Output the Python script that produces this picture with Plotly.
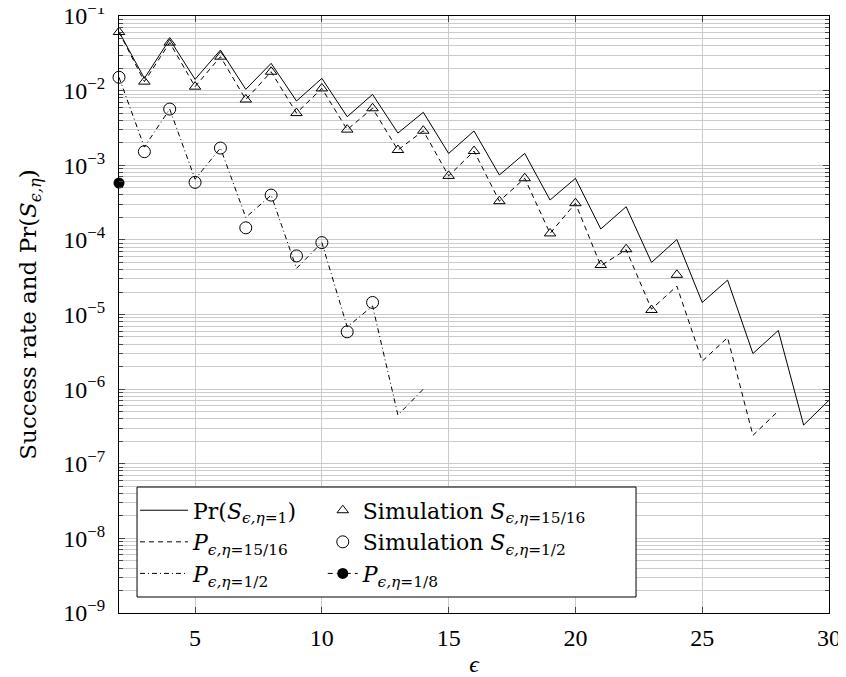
import plotly.graph_objects as go

# ---- data ----
eps_solid = list(range(2, 31))
pr_eta1 = [0.0616, 0.0146, 0.0486, 0.01416, 0.035, 0.0104, 0.0232, 0.00726, 0.0146,
           0.00447, 0.0089, 0.0027, 0.00512, 0.00144, 0.00288, 0.00074, 0.00144,
           0.000342, 0.000667, 0.00014, 0.000278, 4.99e-5, 1.01e-4, 1.45e-5, 2.89e-5,
           3.0e-6, 6.1e-6, 3.3e-7, 7.1e-7]

eps_1516 = list(range(2, 29))
p_1516 = [0.061, 0.0132, 0.044, 0.0113, 0.0285, 0.0076, 0.0179, 0.0050, 0.0107,
          0.0030, 0.0058, 0.0016, 0.0029, 0.00072, 0.00155, 0.00033, 0.00067,
          0.000122, 0.00031, 4.5e-5, 7.4e-5, 1.18e-5, 2.4e-5, 2.37e-6, 4.9e-6,
          2.4e-7, 5.1e-7]

eps_sim1516 = list(range(2, 25))
sim_1516 = [0.061, 0.0132, 0.044, 0.0113, 0.0285, 0.0076, 0.0179, 0.0050, 0.0107,
            0.0030, 0.0058, 0.0016, 0.0029, 0.00072, 0.00155, 0.00033, 0.00067,
            0.000122, 0.00031, 4.6e-5, 7.5e-5, 1.15e-5, 3.4e-5]

eps_half = list(range(2, 15))
p_half = [0.0151, 0.00175, 0.00566, 0.00065, 0.0017, 0.0002, 0.000398, 4.15e-5,
          9.2e-5, 6.8e-6, 1.3e-5, 4.5e-7, 1.0e-6]

eps_simhalf = list(range(2, 13))
sim_half = [0.0151, 0.00152, 0.00566, 0.00059, 0.0017, 0.000145, 0.000398, 6.1e-5,
            9.2e-5, 5.86e-6, 1.45e-5]

eps_eighth = [2]
p_eighth = [5.77e-4]

y_tickvals = [10.0 ** k for k in range(-9, 0)]
y_ticktext = ["10<sup>\u2212%d</sup>" % (-k) for k in range(-9, 0)]
x_tickvals = [5, 10, 15, 20, 25, 30]

FONT = "Liberation Serif"
FONT_WIDE = "DejaVu Serif"
FS = 24
GRID = "#cbcbcb"
SUB = "<sub><i>\u03f5,\u03b7</i>=%s</sub>"

fig = go.Figure()
fig.add_trace(go.Scatter(x=eps_solid, y=pr_eta1, mode="lines",
                         line=dict(color="black", width=1), legend="legend",
                         name="Pr(<i>S</i>" + SUB % "1" + ")"))
fig.add_trace(go.Scatter(x=eps_1516, y=p_1516, mode="lines",
                         line=dict(color="black", width=1, dash="5px,4px"),
                         legend="legend",
                         name="<i>P</i>" + SUB % "15/16"))
fig.add_trace(go.Scatter(x=eps_half, y=p_half, mode="lines",
                         line=dict(color="black", width=1, dash="5px,3px,1px,3px"),
                         legend="legend",
                         name="<i>P</i>" + SUB % "1/2"))
fig.add_trace(go.Scatter(x=eps_sim1516, y=sim_1516, mode="markers",
                         marker=dict(symbol="triangle-up-open", size=10, color="black",
                                     line=dict(width=1, color="black")),
                         cliponaxis=False, legend="legend2",
                         name="Simulation <i>S</i>" + SUB % "15/16"))
fig.add_trace(go.Scatter(x=eps_simhalf, y=sim_half, mode="markers",
                         marker=dict(symbol="circle-open", size=12, color="black",
                                     line=dict(width=1, color="black")),
                         cliponaxis=False, legend="legend2",
                         name="Simulation <i>S</i>" + SUB % "1/2"))
fig.add_trace(go.Scatter(x=eps_eighth, y=p_eighth, mode="lines+markers",
                         line=dict(color="black", width=1, dash="5px,4px"),
                         marker=dict(symbol="circle", size=11, color="black"),
                         cliponaxis=False, legend="legend2",
                         name="<i>P</i>" + SUB % "1/8"))

legend_common = dict(xanchor="left", yanchor="top", orientation="v",
                     bgcolor="rgba(0,0,0,0)", borderwidth=0,
                     font=dict(family=FONT_WIDE, size=22, color="black"),
                     tracegroupgap=0, traceorder="normal")

# the page body adds an 8px offset, so the figure is sized 8px smaller
fig.update_layout(
    width=838, height=669,
    margin=dict(l=111, r=17, t=8, b=64, autoexpand=False),
    paper_bgcolor="white", plot_bgcolor="white",
    font=dict(family=FONT, size=FS, color="black"),
    showlegend=True,
    legend=dict(x=0.0225, y=0.207, itemwidth=48, **legend_common),
    legend2=dict(x=0.287, y=0.207, itemwidth=30, **legend_common),
    shapes=[dict(type="rect", xref="paper", yref="paper",
                 x0=0.0254, x1=0.7282, y0=0.0268, y1=0.211,
                 line=dict(color="black", width=1), fillcolor="white",
                 layer="above")],
    xaxis=dict(range=[2, 30], tickvals=x_tickvals, showgrid=True, gridcolor=GRID,
               gridwidth=1, zeroline=False, showline=True, linecolor="black",
               linewidth=1, mirror="ticks", ticks="inside", ticklen=6,
               tickcolor="#444444", automargin=False, ticklabelstandoff=3,
               ticklabeloverflow="allow",
               tickfont=dict(family=FONT, size=FS),
               title=dict(text="<i>\u03f5</i>", standoff=6,
                          font=dict(family=FONT, size=FS))),
    yaxis=dict(type="log", range=[-9, -1], tickvals=y_tickvals, ticktext=y_ticktext,
               showgrid=True, gridcolor=GRID, gridwidth=1, zeroline=False,
               showline=True, linecolor="black", linewidth=1, mirror="ticks",
               ticks="inside", ticklen=6, tickcolor="#444444", automargin=False,
               ticklabelstandoff=8, ticklabeloverflow="allow",
               tickfont=dict(family=FONT, size=FS),
               minor=dict(dtick="D1", showgrid=True, gridcolor=GRID, gridwidth=1,
                          ticks="inside", ticklen=4, tickcolor="#444444"),
               title=dict(text="Success rate and Pr(<i>S</i><sub><i>\u03f5,\u03b7</i></sub>)",
                          standoff=20, font=dict(family=FONT_WIDE, size=23))),
)

fig.write_html("out.html")
